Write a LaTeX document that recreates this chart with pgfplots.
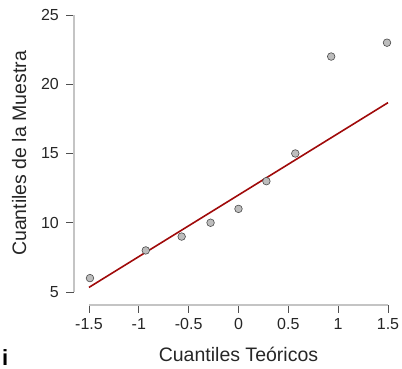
\documentclass[border=0pt]{standalone}
\usepackage{fontspec}
\setmainfont{Liberation Sans}
\usepackage{pgfplots}
\pgfplotsset{compat=1.18}
\definecolor{axisgray}{HTML}{C4C4C4}
\definecolor{tickgray}{HTML}{505050}
\definecolor{ptfill}{HTML}{BDBDBD}
\definecolor{ptdraw}{HTML}{4A4A4A}
\definecolor{linered}{HTML}{A00A0A}
\begin{document}
\begin{tikzpicture}
\begin{axis}[
  scale only axis,
  width=314pt, height=290pt,
  xmin=-1.65, xmax=1.5,
  ymin=4.06, ymax=25,
  axis lines*=left,
  axis line style={draw=none},
  tick align=outside,
  major tick length=8pt,
  tick style={tickgray, line width=0.9pt},
  xtick={-1.5,-1,-0.5,0,0.5,1,1.5},
  ytick={5,10,15,20,25},
  /pgf/number format/assume math mode=true,
  ticklabel style={font=\fontsize{16}{18}\selectfont, text=black!85, inner sep=0pt},
  xticklabel style={yshift=-5pt},
  yticklabel style={xshift=-7pt},
  xlabel={Cuantiles Teóricos},
  ylabel={Cuantiles de la Muestra},
  label style={font=\fontsize{19.5}{22}\selectfont, text=black!85},
  xlabel style={at={(axis description cs:0.5238,-0.1966)}, anchor=base},
  ylabel style={at={(axis description cs:-0.1529,0.5224)}, anchor=base, rotate=0},
  clip=false,
]
\draw[axisgray, line width=1.2pt] (axis cs:-1.5,4.06) -- (axis cs:1.5,4.06);
\draw[axisgray, line width=1.2pt] (axis cs:-1.65,5) -- (axis cs:-1.65,25);
\addplot[linered, line width=1.6pt] coordinates {(-1.5,5.33) (1.5,18.67)};
\addplot[only marks, mark=*, mark size=3.8pt,
  mark options={fill=ptfill, draw=ptdraw, line width=0.6pt}]
  coordinates {
  (-1.49,6) (-0.93,8) (-0.57,9) (-0.28,10) (0,11) (0.28,13) (0.57,15) (0.93,22) (1.49,23)
  };
\node[anchor=base west, font=\fontsize{22}{24}\selectfont\bfseries, inner sep=0pt]
  at (axis description cs:-0.2293,-0.2100) {i};
\path (axis description cs:-0.2357,1.0517) rectangle (axis description cs:1.0446,-0.2207);
\end{axis}
\end{tikzpicture}
\end{document}
